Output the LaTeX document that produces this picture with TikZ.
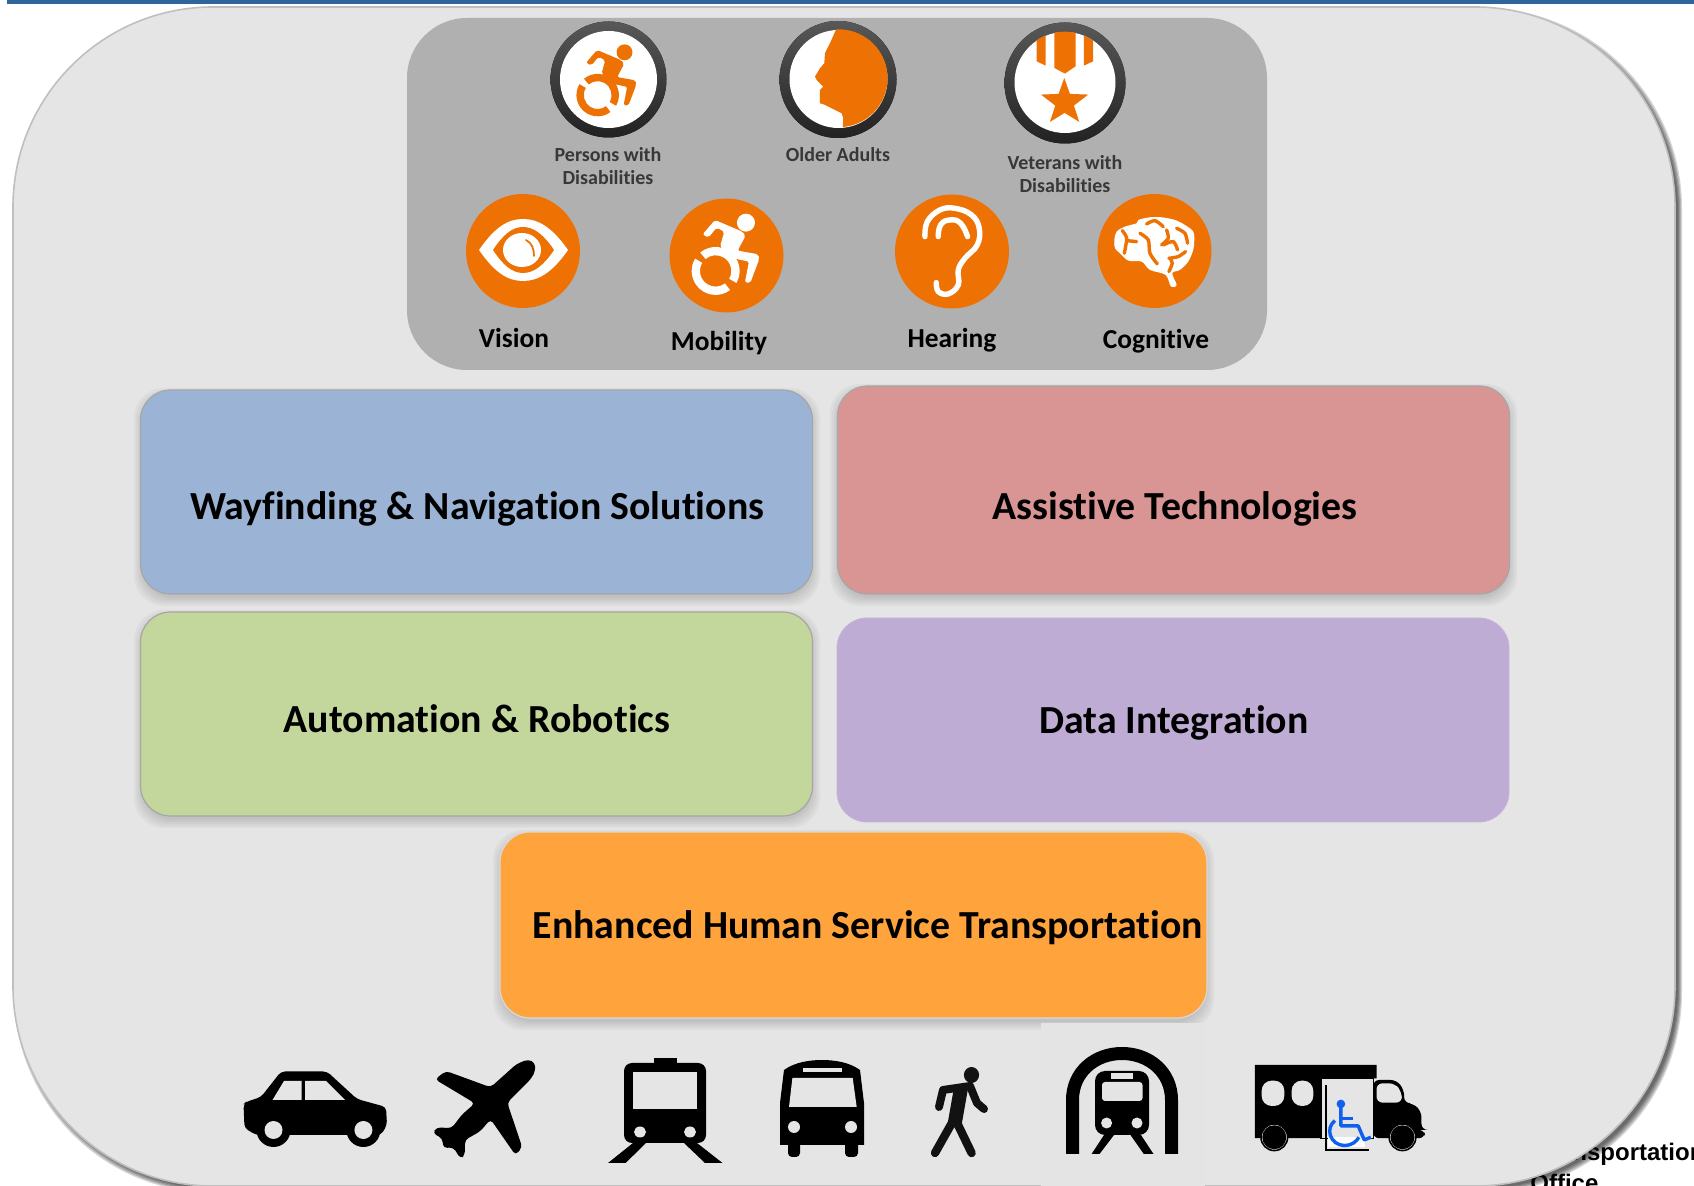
\documentclass[tikz,border=0pt]{standalone}
\usepackage{xcolor}
\usepackage{fontspec}
\setmainfont[RawFeature={-liga}]{Carlito}
\newfontfamily\arialfont{Liberation Sans}
\definecolor{panelgrey}{HTML}{E5E5E5}
\definecolor{patchgrey}{HTML}{E4E4E4}
\definecolor{groupgrey}{HTML}{B0B0B0}
\definecolor{barblue}{HTML}{2F659B}
\definecolor{iconorange}{HTML}{EE7203}
\definecolor{waybox}{HTML}{9BB3D4}
\definecolor{assistbox}{HTML}{D99594}
\definecolor{autobox}{HTML}{C3D69B}
\definecolor{databox}{HTML}{BEACD4}
\definecolor{enhancedbox}{HTML}{FFA33C}
\definecolor{ringtop}{HTML}{585858}
\definecolor{ringbot}{HTML}{222222}
\definecolor{chairblue}{HTML}{1060F0}
\newcommand{\softshadow}[4]{
	\foreach \grow in {7,5,3,1,-1}
		\fill[black, opacity=.03, rounded corners=15pt] (#1-\grow,#2-\grow+5) rectangle (#3+\grow,#4+\grow+5);
}
\tikzset{
	mainpanel/.style={
			rectangle, rounded corners=100pt, fill=panelgrey, draw=black!25, line width=.8pt,
			minimum width=831pt, minimum height=589.5pt, inner sep=0pt
		},
	groupbox/.style={
			rectangle, rounded corners=30pt, fill=groupgrey,
			minimum width=430pt, minimum height=176pt, inner sep=0pt
		},
	techbox/.style={
			rectangle, rounded corners=15pt, draw=black!35, line width=.6pt,
			minimum width=336pt, minimum height=102pt, inner sep=0pt
		},
	techlabel/.style={font=\fontsize{19.9}{22}\selectfont\bfseries, inner sep=0pt},
	userlabel/.style={font=\fontsize{10}{11.5}\selectfont\bfseries, text=black!78, inner sep=0pt, align=center},
	needlabel/.style={font=\fontsize{13.7}{15}\selectfont\bfseries, inner sep=0pt},
	backlabel/.style={font=\arialfont\fontsize{12}{14}\selectfont\bfseries, anchor=base west, inner sep=0pt},
	ring/.style={top color=ringtop, bottom color=ringbot},
	wheelchair/.pic={
			\begin{scope}[shift={(-187,-187)}]
				\path[pic actions] (243,83) circle (27);
				\path[pic actions, rounded corners=1pt] (113,118) -- (150,75) -- (232,110) -- (242,122) -- (218,167) -- (280,178) -- (283,192) -- (256,264) -- (240,262) -- (252,200) -- (205,190) -- (165,155) -- (178,110) -- (155,98) -- (130,128) -- cycle;
				\begin{scope}[shift={(152,228)}]
					\path[pic actions] (53:72) arc[start angle=53, end angle=211, radius=72] -- (211:47) arc[start angle=211, end angle=53, radius=47] -- cycle;
					\path[pic actions] (230:72) arc[start angle=230, end angle=390, radius=72] -- (390:47) arc[start angle=390, end angle=230, radius=47] -- cycle;
				\end{scope}
			\end{scope}
		}
}

\begin{document}
\begin{tikzpicture}[x=.5pt, y=-.5pt]
	\useasboundingbox (0,0) rectangle (1694,1186);
	\clip (0,0) rectangle (1694,1186);

	\fill[barblue] (7,0) rectangle (1694,4);

	% Text behind the panel
	\node[backlabel] (officeline1) at (1536,1161) {Transportation};
	\node[backlabel] (officeline2) at (1530,1192) {Office};

	% Shadow of the panel
	\foreach \grow in {3,2,1,0,-1}
		\fill[black, opacity=.16, rounded corners=100pt] (17-\grow,11-\grow) rectangle (1679+\grow,1190+\grow);
	\node[mainpanel] (panel) at (844,596.5) {};
	\node[groupbox] (group) at (837,194) {};

	% Define the boxes
	\softshadow{141}{390}{813}{594}
	\softshadow{837}{386}{1510}{594}
	\softshadow{141}{612}{813}{816}
	\softshadow{500}{832}{1207}{1018}
	\node[techbox, fill=waybox] (wayfinding) at (476.5,492) {};
	\node[techbox, fill=assistbox, minimum height=104pt] (assistive) at (1173.5,490) {};
	\node[techbox, fill=autobox] (automation) at (476.5,714) {};
	\node[rectangle, rounded corners=15pt, fill=databox, draw=databox!90!white, minimum width=336pt, minimum height=102pt, inner sep=0pt] (dataint) at (1173,720) {};
	\node[techbox, fill=enhancedbox, draw=black!15, minimum width=353.5pt, minimum height=93pt] (enhanced) at (853.5,925) {};
	\node[techlabel] (wayfindinglabel) at (477,509) {Wayfinding \& Navigation Solutions};
	\node[techlabel] (assistivelabel) at (1175,509) {Assistive Technologies};
	\node[techlabel] (automationlabel) at (477,718.5) {Automation \& Robotics};
	\node[techlabel] (dataintlabel) at (1174,723) {Data Integration};
	\node[techlabel] (enhancedlabel) at (868,928) {Enhanced Human Service Transportation};

	% Patch under the subway icon
	\fill[patchgrey] (1041,1023) rectangle (1205,1186);

	% Ringed icons
	\fill[ring] (608.5,79.5) circle (58);
	\fill[white] (608.5,79.5) circle (48.5);
	\pic[fill=iconorange, scale=.295] at (608,83) {wheelchair};
	\fill[ring] (838,79.5) circle (58.5);
	\fill[white] (838.5,79) circle (49);
	\begin{scope}[shift={(775,15)}, scale=.333]
		\clip (191,190) circle (147);
		\fill[iconorange] (185,40) -- (165,85) -- (150,115) -- (148,145) -- (135,160) -- (120,185) -- (125,195) -- (145,215) -- (135,225) -- (135,265) -- (150,270) -- (200,295) -- (205,310) -- (203,345) -- (400,345) -- (400,40) -- cycle;
	\end{scope}
	\fill[ring] (1065,83) circle (60.5);
	\fill[white] (1065,82.5) circle (50.5);
	\begin{scope}[shift={(1000,18)}, scale=.333]
		\begin{scope}
			\clip (194,192) circle (151);
			\fill[iconorange] (110,30) -- (137,30) -- (137,143) -- (110,130) -- cycle;
			\fill[iconorange] (163,30) -- (227,30) -- (227,145) -- (195,167) -- (163,150) -- cycle;
			\fill[iconorange] (252,30) -- (280,30) -- (280,130) -- (252,143) -- cycle;
		\end{scope}
		\fill[iconorange] (193,180) -- (210,228) -- (265,230) -- (222,263) -- (238,312) -- (194,285) -- (150,312) -- (166,263) -- (123,230) -- (176,228) -- cycle;
	\end{scope}
	\node[userlabel] (personslabel) at (608,166) {Persons with\\Disabilities};
	\node[userlabel] (olderlabel) at (838,155) {Older Adults};
	\node[userlabel] (veteranslabel) at (1065,174.5) {Veterans with\\Disabilities};

	% Orange icons
	\fill[iconorange] (523,251) circle (57);
	\fill[iconorange] (726.5,255.5) circle (57);
	\fill[iconorange] (952,251.5) circle (57);
	\fill[iconorange] (1154.5,251) circle (57);
	% eye
	\fill[white] (479,250) .. controls (495,227) and (508,219) .. (523,219) .. controls (538,219) and (552,227) .. (568,250) .. controls (552,273) and (538,281) .. (523,281) .. controls (508,281) and (495,273) .. cycle;
	\fill[iconorange] (493,250) .. controls (503,235) and (512,227) .. (523,227) .. controls (534,227) and (544,235) .. (554,250) .. controls (544,265) and (534,273) .. (523,273) .. controls (512,273) and (503,265) .. cycle;
	\fill[white] (522,250) ellipse (19 and 17);
	\draw[iconorange, line width=.9pt, line cap=round] (526,240) .. controls (532,243) and (534,249) .. (534,256);
	\pic[fill=white, scale=.333] at (727.3,257.3) {wheelchair};
	% ear
	\begin{scope}[shift={(890,190)}, scale=.333]
		\draw[white, line width=2.7pt, line cap=round] plot[smooth, tension=.7] coordinates {(105,140) (112,95) (150,60) (195,55) (245,75) (268,115) (262,165) (225,205) (205,240) (205,285) (175,312) (145,305) (139,278)};
		\draw[white, line width=2.7pt, line cap=round] plot[smooth, tension=.8] coordinates {(145,140) (152,105) (180,90) (212,100) (233,140)};
	\end{scope}
	% brain
	\begin{scope}[shift={(1095,190)}, scale=.333]
		\fill[white] plot[smooth cycle, tension=.55] coordinates {(58,150) (65,125) (90,110) (125,100) (130,90) (165,82) (200,82) (240,90) (270,105) (295,125) (298,155) (295,180) (280,215) (255,240) (232,250) (245,285) (228,290) (212,255) (165,240) (140,215) (100,212) (75,190) (60,175)};
		\foreach \sulcus in {
				{(82,122) (95,145) (88,190)},
				{(95,152) (125,155)},
				{(155,102) (180,92) (205,110)},
				{(135,130) (160,150) (165,190) (187,222)},
				{(215,120) (220,145) (200,165)},
				{(205,165) (235,155) (248,180)},
				{(245,115) (270,130) (278,160)},
				{(222,205) (250,200) (272,185)},
				{(225,205) (232,220) (222,245)}}
			\draw[iconorange, line width=1.7pt, line cap=round] plot[smooth] coordinates \sulcus;
	\end{scope}
	\node[needlabel] (visionlabel) at (514,338) {Vision};
	\node[needlabel] (mobilitylabel) at (719,343) {Mobility};
	\node[needlabel] (hearinglabel) at (952,340) {Hearing};
	\node[needlabel] (cognitivelabel) at (1156,341) {Cognitive};

	% car
	\fill[black, rounded corners=2pt] (243.5,1104) -- (246,1102) -- (261,1097) -- (281,1071.5) -- (327,1071.5) -- (357,1099) -- (386,1107) -- (387,1125) -- (381,1135) -- (256,1135) -- (244.5,1128) -- cycle;
	\fill[black] (273.5,1130) circle (17) (363.4,1130) circle (17);
	\fill[panelgrey] (273.5,1130) circle (9) (363.4,1130) circle (9);
	\fill[panelgrey] (284,1081) -- (301.6,1081) -- (301.6,1100) -- (272.5,1100) -- cycle;
	\fill[panelgrey] (305,1081) -- (326,1081) -- (345,1100) -- (305,1100) -- cycle;
	% plane
	\begin{scope}[shift={(420,1050)}, scale=.333]
		\fill[black, rounded corners=2pt] (45,88) -- (78,63) -- (212,112) -- (290,42) -- (325,28) -- (345,38) -- (347,60) -- (335,85) -- (262,158) -- (307,292) -- (287,316) -- (212,208) -- (180,245) -- (135,270) -- (135,315) -- (122,327) -- (100,292) -- (70,295) -- (67,265) -- (38,250) -- (50,232) -- (95,235) -- (125,195) -- (165,160) -- cycle;
	\end{scope}
	% train
	\fill[black, rounded corners=4pt] (624,1063) rectangle (706,1143);
	\fill[black] (654,1058) rectangle (677,1064);
	\fill[panelgrey] (633,1072) rectangle (697,1109);
	\fill[panelgrey] (640,1132) ellipse (6 and 5.5) (690,1132) ellipse (6 and 5.5);
	\fill[black] (633,1143) -- (646,1143) -- (625.6,1163) -- (608,1163) -- cycle;
	\fill[black] (684,1143) -- (697,1143) -- (722.5,1163) -- (705,1163) -- cycle;
	% bus
	\fill[black] (780,1145) -- (780,1103) -- (784,1070) .. controls (795,1062) and (810,1060) .. (822,1060) .. controls (834,1060) and (849,1062) .. (860,1070) -- (864,1103) -- (864,1145) -- cycle;
	\fill[black, rounded corners=2pt] (788,1140) rectangle (800,1157);
	\fill[black, rounded corners=2pt] (845,1140) rectangle (858,1157);
	\fill[panelgrey] (792.4,1078) -- (852.7,1078) -- (856.7,1107) -- (789,1107) -- cycle;
	\fill[panelgrey] (803,1068) rectangle (842,1072);
	\fill[panelgrey] (794,1127) ellipse (6 and 6) (851,1127) ellipse (6 and 6);
	% pedestrian
	\fill[black!93] (971.5,1075) ellipse (7.6 and 8);
	\draw[black!93, line width=4pt, line join=round, line cap=round] (939,1107) -- (943,1090) -- (970,1086) -- (977,1103) -- (984,1109);
	\draw[black!93, line width=7pt, line join=round] (961,1088) -- (955,1122);
	\draw[black!93, line width=4.2pt, line join=round, line cap=round] (935,1153) -- (954.7,1118) -- (971.6,1153);
	% subway
	\draw[black, line width=6.5pt] (1072.5,1154) -- (1072.5,1100) .. controls (1072.5,1072) and (1095,1053.5) .. (1122,1053.5) .. controls (1149,1053.5) and (1171.5,1072) .. (1171.5,1100) -- (1171.5,1154);
	\fill[black, rounded corners=5pt] (1095,1071) rectangle (1149,1135);
	\fill[patchgrey, rounded corners=1.5pt] (1102,1082) rectangle (1142.5,1101);
	\fill[patchgrey] (1111,1073) rectangle (1133,1079);
	\fill[patchgrey] (1106.6,1123) circle (5.5) (1137,1123) circle (5.5);
	\fill[black] (1104,1135) -- (1114,1135) -- (1099.5,1154) -- (1091.6,1154) -- cycle;
	\fill[black] (1130.5,1135) -- (1141,1135) -- (1153.5,1154) -- (1143.8,1154) -- cycle;
	% wheelchair van
	\begin{scope}[shift={(1245,1050)}, scale=.333]
		\fill[black] (30,45) -- (395,45) -- (395,85) -- (228,85) -- (228,265) -- (30,265) -- cycle;
		\draw[black, line width=.6pt] (228,85) rectangle (385,265);
		\fill[black, rounded corners=3pt] (385,90) -- (455,90) -- (478,120) -- (478,160) -- (505,160) -- (530,185) -- (530,240) -- (540,240) -- (540,265) -- (385,265) -- cycle;
		\fill[panelgrey, rounded corners=3pt] (395,100) -- (450,100) -- (470,125) -- (472,158) -- (395,158) -- cycle;
		\draw[black, line width=.8pt, fill=panelgrey] (88,262) circle (40);
		\draw[black, line width=.8pt, fill=panelgrey] (473,262) circle (40);
		\fill[black] (88,262) circle (36) (473,262) circle (36);
		\fill[panelgrey, rounded corners=5pt] (50,92) rectangle (118,168);
		\fill[panelgrey, rounded corners=5pt] (140,92) rectangle (205,168);
		\fill[white] (248,262) rectangle (360,292);
		\draw[black, line width=.9pt] (243,105) -- (243,300) -- (372,300);
		\fill[chairblue] (288,162) circle (13);
		\draw[chairblue, line width=1.7pt, line join=round] (288,162) -- (288,228) -- (340,228) -- (358,270) -- (378,262);
		\draw[chairblue, line width=1.7pt] (288,205) -- (325,205);
		\draw[chairblue, line width=1.7pt] (270,212) .. controls (240,235) and (255,285) .. (298,287) .. controls (320,287) and (335,275) .. (342,262);
	\end{scope}
\end{tikzpicture}
\end{document}
